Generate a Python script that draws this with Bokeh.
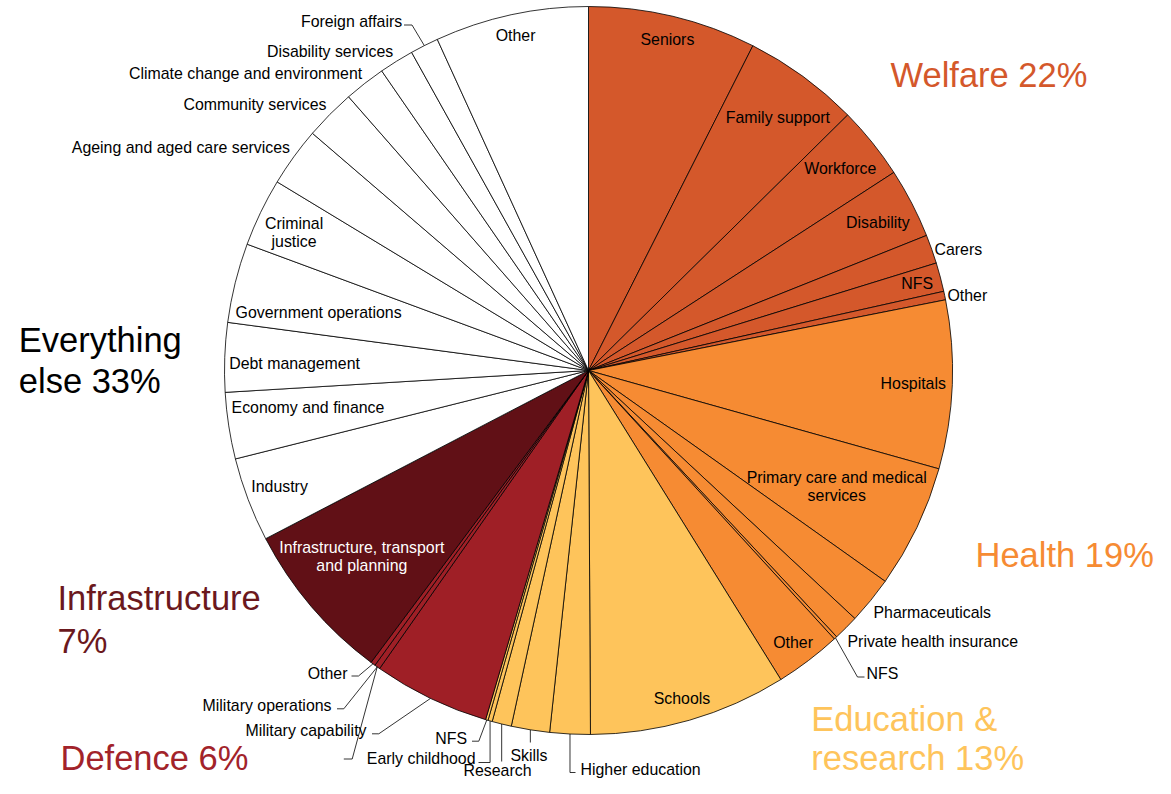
import math
from bokeh.plotting import figure
from bokeh.models import Range1d, ColumnDataSource
from bokeh.embed import file_html
from bokeh.resources import INLINE
from bokeh.core.properties import value

# ---------------- data: share of total spending (%) ----------------
welfare_items = ["Seniors", "Family support", "Workforce", "Disability", "Carers", "NFS", "Other"]
welfare_values = [7.46, 5.16, 3.23, 3.11, 1.28, 1.28, 0.38]

health_items = ["Hospitals", "Primary care and medical services", "Pharmaceuticals",
                "Private health insurance", "NFS", "Other"]
health_values = [7.47, 5.48, 2.10, 1.13, 0.14, 2.94]

education_items = ["Schools", "Higher education", "Skills", "Research", "Early childhood", "NFS"]
education_values = [8.78, 1.79, 1.70, 0.86, 0.19, 0.11]

defence_items = ["Military capability", "Military operations", "Other"]
defence_values = [5.17, 0.25, 0.21]

infrastructure_items = ["Infrastructure, transport and planning"]
infrastructure_values = [7.17]

other_items = ["Industry", "Economy and finance", "Debt management", "Government operations",
               "Criminal justice", "Ageing and aged care services", "Community services",
               "Climate change and environment", "Disability services", "Foreign affairs", "Other"]
other_values = [3.74, 2.95, 3.07, 3.53, 3.03, 2.63, 2.25, 1.84, 1.54, 1.26, 6.82]

sector_names = ["Welfare", "Health", "Education & research", "Defence", "Infrastructure", "Everything else"]
sector_shares = [22, 19, 13, 6, 7, 33]

# ---------------- styles / layout ----------------
W, H = 1155, 778
FONT = "Liberation Sans"
SMALL = "15.9px"
BIG = "34.5px"
SMALL_LH = 18
BIG_LH = 41.5
BASE_FIX = 11  # renderer draws alphabetic baseline this many px lower

sector_fill = {"Welfare": "#D4582B", "Health": "#F68B33", "Education & research": "#FEC45B",
               "Defence": "#9F1F26", "Infrastructure": "#611016", "Everything else": "#FFFFFF"}
headline_color = {"Welfare": "#D4582B", "Health": "#F68B33", "Education & research": "#FEC45B",
                  "Defence": "#A2232A", "Infrastructure": "#6B181D", "Everything else": "#000000"}

def Y(yref):
    # screen y (from top) -> data y
    return H - yref

CX, CY, R = 588, Y(370), 364

wrap = {"Primary care and medical services": "Primary care and medical\nservices",
        "Infrastructure, transport and planning": "Infrastructure, transport\nand planning",
        "Criminal justice": "Criminal\njustice"}

# in-slice labels: (radius from centre, angle nudge in degrees)
inside = {
    ("Welfare", "Seniors"): (340, 0.0),
    ("Welfare", "Family support"): (316, 0.7),
    ("Welfare", "Workforce"): (323, 0.0),
    ("Welfare", "Disability"): (325, 0.3),
    ("Welfare", "NFS"): (340, 0.0),
    ("Health", "Hospitals"): (325, 0.0),
    ("Health", "Primary care and medical services"): (274, -0.5),
    ("Health", "Other"): (340, 0.2),
    ("Education & research", "Schools"): (341, 0.2),
    ("Infrastructure", "Infrastructure, transport and planning"): (293, 1.1),
    ("Everything else", "Industry"): (330, 0.2),
    ("Everything else", "Economy and finance"): (283, 1.2),
    ("Everything else", "Debt management"): (294, -0.8),
    ("Everything else", "Government operations"): (276, -1.9),
    ("Everything else", "Criminal justice"): (325, -0.7),
    ("Everything else", "Other"): (343, 0.0),
}

# outside labels: (x, y in screen px, align, leader elbows [(x or None -> arc x, y)])
outside = {
    ("Welfare", "Carers"): (934, 249, "left", None),
    ("Welfare", "Other"): (947, 295, "left", None),
    ("Health", "Pharmaceuticals"): (873, 612, "left", None),
    ("Health", "Private health insurance"): (847, 641, "left", None),
    ("Health", "NFS"): (866, 672.5, "left", [(857, 676.5), (864, 676.5)]),
    ("Education & research", "Higher education"): (580, 768.5, "left", [(None, 772), (575, 772)]),
    ("Education & research", "Skills"): (528.5, 754.5, "center", [(None, 742)]),
    ("Education & research", "Research"): (497, 769.5, "center", [(None, 761)]),
    ("Education & research", "Early childhood"): (475, 757.5, "right", [(None, 762), (478, 762)]),
    ("Education & research", "NFS"): (466.5, 737.5, "right", [(478.3, 740.7), (471.5, 740.7)]),
    ("Defence", "Military capability"): (366, 729.5, "right", [(378.3, 733.3), (371.5, 733.3)]),
    ("Defence", "Military operations"): (331, 705, "right", [(343.3, 708.3), (336.5, 708.3)]),
    ("Defence", "Other"): (347, 673, "right", [(358, 675.5), (351, 675.5)]),
    ("Everything else", "Ageing and aged care services"): (289.5, 146.5, "right", None),
    ("Everything else", "Community services"): (326, 103.5, "right", None),
    ("Everything else", "Climate change and environment"): (361.7, 72.5, "right", None),
    ("Everything else", "Disability services"): (392.7, 50.7, "right", None),
    ("Everything else", "Foreign affairs"): (401.7, 20.7, "right", [(411.5, 24.5), (403.5, 24.5)]),
}
# leader drawn without a label in the original
stray_leaders = [(("Defence", "Military operations"), [(351.7, 758.5), (343.3, 758.5)])]

# headline: (left x, first baseline y in screen px, words before line break)
headline = {
    "Welfare": (890, 85, None),
    "Health": (975, 565, None),
    "Education & research": (810.7, 729, 2),
    "Defence": (60, 768, None),
    "Infrastructure": (57, 608, 1),
    "Everything else": (18.3, 350, 1),
}
HEAD_LH = {"Education & research": 39, "Infrastructure": 43}

# ---------------- build slices ----------------
groups = [welfare_items, health_items, education_items, defence_items, infrastructure_items, other_items]
vals = [welfare_values, health_values, education_values, defence_values, infrastructure_values, other_values]
total = sum(sum(v) for v in vals)

slices = []
acc = 0.0
for sname, items, vv in zip(sector_names, groups, vals):
    for it, v in zip(items, vv):
        a0 = acc / total * 360.0
        acc += v
        a1 = acc / total * 360.0
        slices.append((sname, it, a0, a1))

def arc_pt(theta, r=R):
    t = math.radians(theta)
    return CX + r * math.sin(t), CY + r * math.cos(t)

p = figure(width=W, height=H, x_range=Range1d(0, W), y_range=Range1d(0, H),
           output_backend="svg", toolbar_location=None,
           x_axis_location=None, y_axis_location=None, min_border=0)
p.grid.visible = False
p.outline_line_color = None
p.background_fill_color = "white"
p.border_fill_color = "white"

wsrc = ColumnDataSource(dict(
    s=[math.radians(90 - a0) for _, _, a0, _ in slices],
    e=[math.radians(90 - a1) for _, _, _, a1 in slices],
    c=[sector_fill[s] for s, _, _, _ in slices],
))
p.wedge(x=CX, y=CY, radius=R, start_angle="s", end_angle="e", direction="clock",
        fill_color="c", line_color="black", line_width=0.8, source=wsrc)

texts = []  # (x, y, text, align, baseline, size, color)
lx, ly = [], []

for sname, it, a0, a1 in slices:
    mid = (a0 + a1) / 2
    key = (sname, it)
    label = wrap.get(it, it)
    if key in inside:
        r, nudge = inside[key]
        x, y = arc_pt(mid + nudge, r)
        lines = label.split("\n")
        col = "white" if sname == "Infrastructure" else "black"
        for i, ln in enumerate(lines):
            texts.append((x, y - (i - (len(lines) - 1) / 2) * SMALL_LH, ln, "center", "middle", SMALL, col))
    elif key in outside:
        x, yref, align, elbows = outside[key]
        texts.append((x, Y(yref), label, align, "middle", SMALL, "black"))
        if elbows:
            ax, ay = arc_pt(mid)
            xs, ys = [ax], [ay]
            for ex, ey in elbows:
                xs.append(ax if ex is None else ex)
                ys.append(Y(ey))
            lx.append(xs)
            ly.append(ys)

for key, elbows in stray_leaders:
    for sname, it, a0, a1 in slices:
        if (sname, it) == key:
            ax, ay = arc_pt((a0 + a1) / 2)
            lx.append([ax] + [e[0] for e in elbows])
            ly.append([ay] + [Y(e[1]) for e in elbows])

p.multi_line(xs=lx, ys=ly, line_color="black", line_width=0.8)

for sname, share in zip(sector_names, sector_shares):
    x, yref, brk = headline[sname]
    words = f"{sname} {share}%".split(" ")
    lines = [" ".join(words)] if brk is None else [" ".join(words[:brk]), " ".join(words[brk:])]
    lh = HEAD_LH.get(sname, BIG_LH)
    for i, ln in enumerate(lines):
        texts.append((x, Y(yref + i * lh - BASE_FIX), ln, "left", "alphabetic", BIG, headline_color[sname]))

groups_t = {}
for x, y, t, al, bl, sz, col in texts:
    groups_t.setdefault((al, bl, sz, col), []).append((x, y, t))
for (al, bl, sz, col), rows in groups_t.items():
    src = ColumnDataSource(dict(x=[r[0] for r in rows], y=[r[1] for r in rows], t=[r[2] for r in rows]))
    p.text(x="x", y="y", text="t", source=src, text_align=al, text_baseline=bl,
           text_font=value(FONT), text_font_size=sz, text_color=col)

open("out.html", "w").write(file_html(p, INLINE))
